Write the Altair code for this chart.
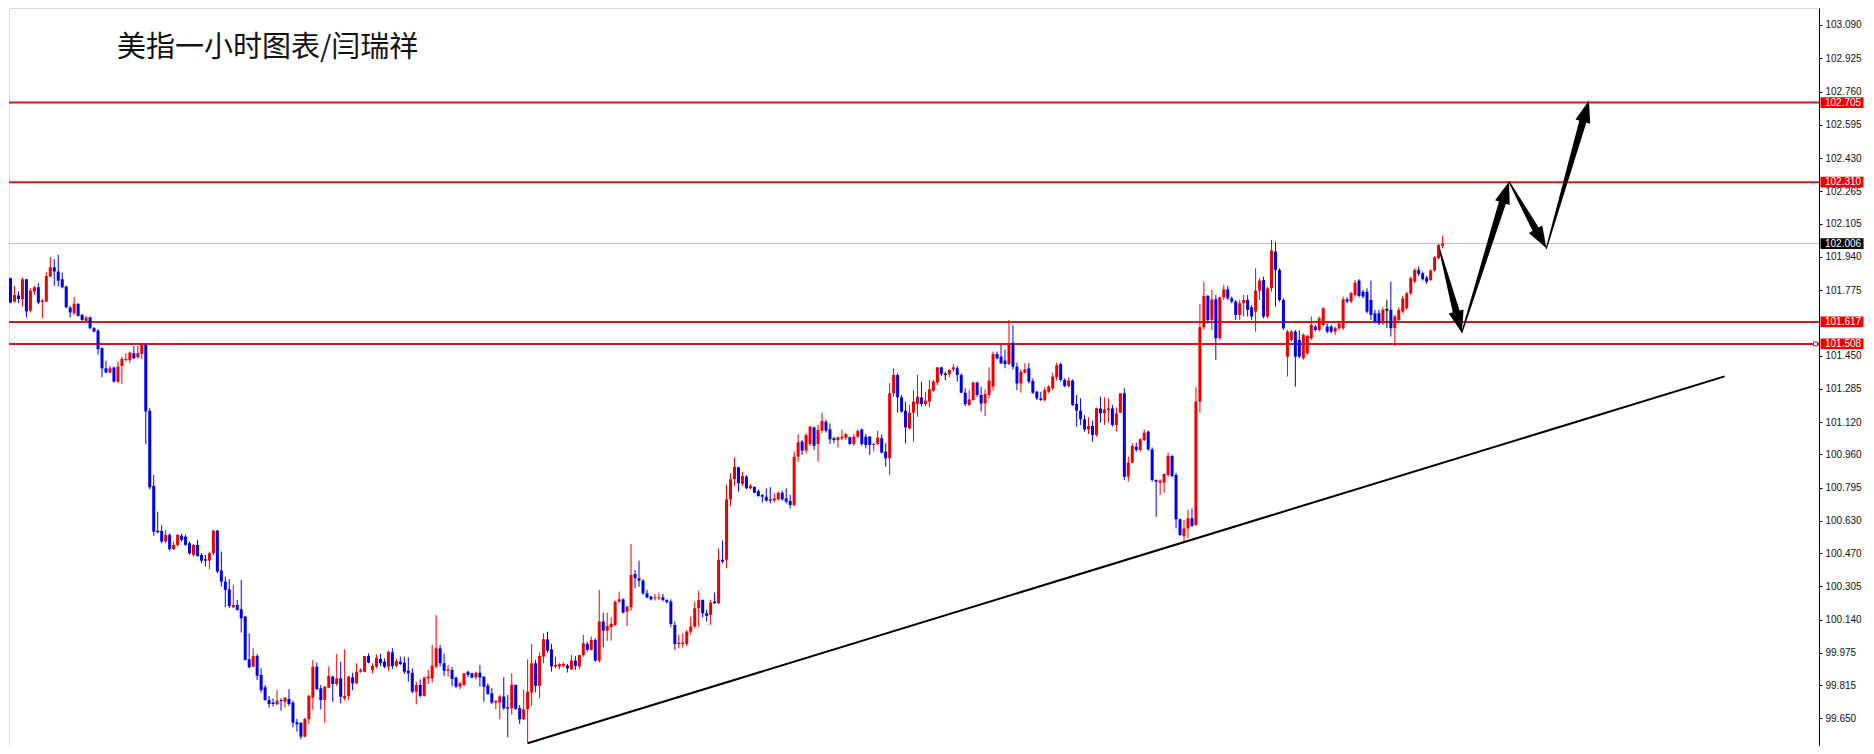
import math
import altair as alt
import pandas as pd

TITLE = "美指一小时图表/闫瑞祥"

OPEN = [
101.834,101.718,101.748,101.730,101.829,101.673,101.768,101.789,101.716,101.718,
101.842,101.888,101.867,101.829,101.793,101.688,101.660,101.707,101.652,101.622,
101.640,101.586,101.574,101.487,101.387,101.366,101.391,101.321,101.399,101.429,
101.429,101.462,101.442,101.459,101.505,101.176,100.804,100.581,100.581,100.528,
100.561,100.490,100.511,100.557,100.552,100.519,100.462,100.511,100.461,100.440,
100.433,100.470,100.582,100.384,100.329,100.291,100.202,100.213,100.192,100.156,
99.944,99.907,99.960,99.866,99.805,99.742,99.729,99.720,99.742,99.733,
99.747,99.729,99.631,99.629,99.560,99.646,99.753,99.907,99.800,99.742,
99.803,99.858,99.821,99.849,99.750,99.762,99.854,99.824,99.882,99.882,
99.960,99.891,99.907,99.945,99.932,99.907,99.978,99.912,99.932,99.927,
99.887,99.877,99.783,99.816,99.762,99.849,99.849,99.907,99.998,99.924,
99.887,99.891,99.853,99.808,99.816,99.882,99.874,99.854,99.877,99.858,
99.813,99.775,99.729,99.729,99.759,99.706,99.701,99.817,99.701,99.646,
99.696,99.779,99.924,99.812,99.957,100.043,99.993,99.908,99.908,99.911,
99.913,99.894,99.937,99.908,99.965,100.020,99.990,100.040,99.937,100.131,
100.086,100.103,100.114,100.230,100.241,100.180,100.202,100.367,100.346,100.334,
100.271,100.255,100.246,100.246,100.251,100.238,100.230,100.114,100.020,100.020,
100.020,100.081,100.106,100.197,100.238,100.172,100.164,100.230,100.222,100.437,
100.437,100.737,100.837,100.896,100.813,100.850,100.792,100.800,100.778,100.759,
100.750,100.737,100.731,100.737,100.770,100.742,100.729,100.709,100.949,101.023,
100.979,101.012,101.094,101.012,101.078,101.122,101.084,101.040,101.031,101.040,
101.043,101.045,101.012,101.048,101.084,101.048,101.048,101.007,101.012,101.040,
100.974,100.941,101.263,101.354,101.243,101.177,101.089,101.167,101.210,101.243,
101.210,101.222,101.276,101.316,101.392,101.357,101.357,101.382,101.387,101.354,
101.266,101.205,101.230,101.316,101.255,101.213,101.255,101.296,101.458,101.445,
101.425,101.408,101.514,101.395,101.312,101.365,101.387,101.324,101.271,101.238,
101.230,101.271,101.288,101.342,101.408,101.329,101.299,101.326,101.210,101.177,
101.134,101.084,101.101,101.056,101.188,101.164,101.180,101.188,101.106,101.167,
101.263,100.849,100.919,100.998,100.982,101.031,101.073,100.985,100.833,100.820,
100.820,100.858,100.952,100.858,100.638,100.555,100.593,100.643,100.610,101.222,
101.591,101.746,101.627,101.729,101.536,101.739,101.779,101.734,101.718,101.652,
101.710,101.726,101.690,101.668,101.772,101.825,101.644,101.784,101.966,101.875,
101.726,101.445,101.528,101.569,101.528,101.437,101.462,101.536,101.594,101.577,
101.602,101.594,101.594,101.569,101.586,101.586,101.729,101.718,101.751,101.822,
101.767,101.767,101.726,101.660,101.660,101.610,101.677,101.677,101.586,101.627,
101.668,101.685,101.759,101.817,101.875,101.858,101.837,101.825,101.872,101.933,101.995]

HIGH = [
101.837,101.796,101.768,101.839,101.829,101.784,101.796,101.809,101.730,101.864,
101.938,101.928,101.950,101.862,101.796,101.697,101.740,101.710,101.657,101.647,
101.644,101.591,101.581,101.492,101.425,101.399,101.396,101.421,101.445,101.462,
101.470,101.498,101.498,101.508,101.508,101.189,100.858,100.676,100.610,100.586,
100.569,100.528,100.564,100.566,100.561,100.528,100.516,100.536,100.470,100.461,
100.478,100.585,100.585,100.478,100.354,100.341,100.313,100.238,100.337,100.156,
100.073,99.998,99.970,99.899,99.816,99.762,99.750,99.791,99.750,99.755,
99.796,99.738,99.648,99.631,99.654,99.767,99.940,99.927,99.816,99.811,
99.907,99.861,99.970,99.932,99.993,99.861,99.877,99.924,99.899,99.960,
99.973,99.924,99.968,99.970,99.948,99.986,99.998,99.948,99.957,99.957,
99.953,99.899,99.833,99.844,99.858,99.891,100.015,100.163,100.015,99.973,
99.915,99.907,99.858,99.833,99.877,99.887,99.877,99.882,99.915,99.858,
99.824,99.800,99.742,99.767,99.855,99.767,99.874,99.817,99.717,99.792,
99.944,100.020,99.941,99.977,100.073,100.081,100.020,99.957,99.924,99.927,
99.921,99.965,99.960,99.965,100.065,100.031,100.056,100.048,100.288,100.175,
100.175,100.152,100.235,100.279,100.246,100.208,100.516,100.387,100.433,100.341,
100.288,100.258,100.268,100.274,100.268,100.241,100.241,100.131,100.065,100.073,
100.089,100.156,100.230,100.284,100.241,100.189,100.238,100.274,100.494,100.532,
100.809,100.866,100.945,100.899,100.874,100.858,100.813,100.800,100.787,100.764,
100.792,100.797,100.767,100.775,100.780,100.792,100.759,100.974,101.061,101.031,
101.065,101.101,101.098,101.106,101.167,101.131,101.114,101.048,101.048,101.081,
101.065,101.048,101.061,101.084,101.089,101.061,101.051,101.018,101.078,101.060,
101.015,101.313,101.387,101.362,101.255,101.222,101.205,101.279,101.354,101.321,
101.271,101.329,101.329,101.392,101.395,101.370,101.382,101.408,101.399,101.362,
101.288,101.279,101.321,101.321,101.296,101.283,101.392,101.470,101.470,101.503,
101.481,101.627,101.600,101.415,101.382,101.412,101.412,101.337,101.276,101.271,
101.293,101.304,101.365,101.415,101.415,101.337,101.342,101.332,101.255,101.238,
101.155,101.144,101.127,101.193,101.246,101.243,101.238,101.205,101.193,101.263,
101.288,100.949,101.015,101.018,101.040,101.084,101.078,100.995,100.836,100.836,
100.866,100.969,100.957,100.869,100.643,100.635,100.687,100.692,101.293,101.706,
101.817,101.751,101.776,101.751,101.743,101.801,101.796,101.743,101.726,101.726,
101.751,101.751,101.701,101.883,101.834,101.842,101.792,102.024,102.016,101.883,
101.734,101.577,101.577,101.577,101.577,101.561,101.553,101.644,101.602,101.644,
101.690,101.610,101.602,101.594,101.619,101.743,101.739,101.767,101.825,101.829,
101.776,101.784,101.822,101.677,101.677,101.690,101.726,101.817,101.652,101.690,
101.746,101.767,101.842,101.883,101.892,101.867,101.845,101.878,101.944,102.004,102.044]

LOW = [
101.710,101.713,101.710,101.693,101.640,101.664,101.751,101.705,101.635,101.716,
101.839,101.796,101.793,101.784,101.685,101.639,101.652,101.644,101.622,101.616,
101.581,101.566,101.454,101.343,101.363,101.363,101.316,101.313,101.310,101.421,
101.412,101.432,101.437,101.432,101.012,100.787,100.556,100.569,100.519,100.519,
100.483,100.486,100.503,100.528,100.506,100.462,100.453,100.453,100.420,100.404,
100.390,100.461,100.370,100.304,100.202,100.197,100.197,100.185,100.076,99.937,
99.899,99.904,99.841,99.778,99.738,99.704,99.709,99.717,99.689,99.704,
99.712,99.606,99.585,99.547,99.557,99.623,99.692,99.791,99.695,99.629,
99.800,99.733,99.811,99.725,99.738,99.742,99.791,99.821,99.877,99.879,
99.924,99.874,99.899,99.910,99.899,99.887,99.896,99.904,99.915,99.871,
99.833,99.775,99.720,99.755,99.758,99.821,99.828,99.899,99.907,99.861,
99.858,99.811,99.800,99.795,99.811,99.854,99.849,99.844,99.808,99.733,
99.767,99.722,99.696,99.646,99.693,99.557,99.668,99.693,99.623,99.643,
99.527,99.712,99.779,99.750,99.924,99.977,99.883,99.899,99.894,99.904,
99.878,99.891,99.891,99.894,99.957,99.982,99.987,99.932,99.927,100.003,
100.036,100.036,100.109,100.222,100.172,100.109,100.185,100.296,100.304,100.263,
100.246,100.235,100.235,100.238,100.230,100.222,100.103,99.990,99.998,100.002,
100.010,100.065,100.098,100.106,100.152,100.131,100.114,100.218,100.218,100.420,
100.395,100.704,100.803,100.775,100.803,100.787,100.787,100.767,100.750,100.721,
100.726,100.717,100.721,100.731,100.731,100.717,100.692,100.701,100.924,100.957,
100.965,101.002,100.982,100.924,101.065,101.068,101.012,101.015,100.995,101.031,
101.031,101.007,101.002,101.040,101.002,100.990,100.957,100.974,101.007,100.965,
100.899,100.858,101.246,101.167,101.167,101.015,101.084,101.023,101.147,101.197,
101.200,101.193,101.271,101.304,101.349,101.329,101.342,101.370,101.321,101.263,
101.200,101.200,101.226,101.246,101.172,101.150,101.238,101.276,101.431,101.408,
101.387,101.403,101.382,101.279,101.266,101.362,101.312,101.260,101.230,101.225,
101.222,101.263,101.279,101.326,101.321,101.293,101.293,101.200,101.098,101.106,
101.073,101.061,101.023,101.048,101.117,101.106,101.117,101.098,101.073,101.164,
100.833,100.825,100.916,100.973,100.973,101.026,100.978,100.825,100.651,100.759,
100.770,100.849,100.846,100.593,100.555,100.527,100.544,100.601,100.605,101.167,
101.577,101.610,101.577,101.429,101.528,101.726,101.726,101.710,101.627,101.627,
101.644,101.644,101.627,101.569,101.726,101.635,101.635,101.767,101.693,101.718,
101.577,101.346,101.520,101.296,101.437,101.429,101.453,101.528,101.569,101.569,
101.594,101.561,101.561,101.553,101.577,101.577,101.710,101.710,101.743,101.739,
101.734,101.660,101.627,101.610,101.602,101.602,101.586,101.544,101.498,101.619,
101.660,101.677,101.751,101.809,101.845,101.822,101.806,101.820,101.867,101.928,101.982]

CLOSE = [
101.713,101.751,101.731,101.829,101.669,101.773,101.789,101.713,101.723,101.845,
101.888,101.867,101.822,101.789,101.690,101.664,101.707,101.647,101.627,101.639,
101.586,101.569,101.482,101.387,101.366,101.387,101.321,101.396,101.434,101.434,
101.465,101.437,101.462,101.505,101.173,100.797,100.577,100.574,100.528,100.561,
100.490,100.511,100.561,100.536,100.511,100.470,100.511,100.456,100.433,100.433,
100.470,100.582,100.379,100.329,100.288,100.208,100.213,100.189,100.147,99.941,
99.904,99.960,99.862,99.791,99.742,99.722,99.722,99.738,99.737,99.753,
99.722,99.629,99.621,99.560,99.648,99.763,99.907,99.795,99.742,99.808,
99.861,99.821,99.849,99.758,99.762,99.858,99.824,99.882,99.891,99.960,
99.927,99.912,99.952,99.924,99.907,99.981,99.910,99.935,99.920,99.882,
99.874,99.783,99.816,99.762,99.853,99.858,99.912,99.998,99.924,99.887,
99.894,99.846,99.808,99.824,99.874,99.866,99.853,99.877,99.853,99.808,
99.772,99.729,99.737,99.759,99.701,99.699,99.817,99.697,99.646,99.696,
99.783,99.924,99.812,99.960,100.043,99.987,99.908,99.916,99.919,99.921,
99.899,99.937,99.911,99.965,100.023,99.990,100.040,99.937,100.131,100.086,
100.109,100.119,100.230,100.241,100.175,100.205,100.362,100.346,100.334,100.271,
100.251,100.241,100.251,100.251,100.238,100.227,100.119,100.020,100.027,100.027,
100.081,100.106,100.197,100.238,100.172,100.159,100.225,100.222,100.437,100.428,
100.737,100.837,100.899,100.817,100.853,100.792,100.805,100.770,100.754,100.750,
100.731,100.731,100.742,100.770,100.737,100.726,100.709,100.949,101.020,100.979,
101.056,101.098,101.003,101.081,101.126,101.078,101.035,101.031,101.045,101.048,
101.061,101.012,101.048,101.076,101.012,101.007,101.007,101.012,101.043,100.969,
100.941,101.263,101.354,101.243,101.172,101.094,101.167,101.222,101.246,101.210,
101.227,101.283,101.321,101.392,101.359,101.357,101.379,101.392,101.354,101.266,
101.210,101.233,101.316,101.255,101.213,101.260,101.326,101.458,101.436,101.412,
101.408,101.503,101.395,101.312,101.370,101.382,101.321,101.266,101.238,101.230,
101.279,101.296,101.346,101.403,101.329,101.299,101.326,101.205,101.177,101.134,
101.084,101.101,101.056,101.188,101.164,101.183,101.188,101.106,101.164,101.263,
100.849,100.919,101.002,100.982,101.035,101.068,100.985,100.833,100.825,100.830,
100.863,100.952,100.853,100.638,100.560,100.593,100.643,100.605,101.222,101.591,
101.746,101.627,101.729,101.536,101.739,101.779,101.734,101.718,101.652,101.710,
101.726,101.677,101.644,101.772,101.822,101.644,101.784,101.971,101.875,101.726,
101.586,101.569,101.569,101.445,101.445,101.553,101.548,101.602,101.577,101.635,
101.685,101.569,101.569,101.586,101.610,101.729,101.718,101.759,101.812,101.746,
101.743,101.668,101.652,101.619,101.610,101.677,101.677,101.586,101.644,101.677,
101.734,101.759,101.834,101.875,101.855,101.829,101.817,101.872,101.938,101.999,102.006]

LEVELS = [102.705, 102.310, 101.617, 101.508]
LAST_PRICE = 102.006
TICKS = [103.090, 102.925, 102.760, 102.595, 102.430, 102.265, 102.105, 101.940,
         101.775, 101.450, 101.285, 101.120, 100.960, 100.795, 100.630, 100.470,
         100.305, 100.140, 99.975, 99.815, 99.650]
TREND_K = [130, 430.9]
TREND_P = [99.527, 101.347]
PATH_K = [359.2, 364.85, 376.7, 386.1, 396.8]
PATH_P = [101.980, 101.564, 102.313, 101.982, 102.716]

assert len(OPEN) == len(HIGH) == len(LOW) == len(CLOSE)

# ---- layout / style ----
W, H = 1810, 738
X0 = 0.875
X1 = X0 + W / 4.0
YTOP = 103.1743
YBOT = YTOP - H / 201.6
PXK = W / (X1 - X0)
PXP = H / (YTOP - YBOT)

RED = "#ee0000"
BLUE = "#0000ee"
LINE_RED = "#d01820"
BOX_RED = "#f00000"
FONT = "Liberation Sans"
FS = 10

xs = alt.Scale(domain=[X0, X1], zero=False, nice=False)
ys = alt.Scale(domain=[YBOT, YTOP], zero=False, nice=False)
yaxis = alt.Axis(orient="right", values=TICKS, format=".3f", title=None, grid=False,
                 tickSize=3, labelPadding=3, labelFont=FONT, labelFontSize=FS,
                 labelColor="#111111", domainColor="black", tickColor="black",
                 labelOverlap=False, labelFlush=False)


def X(f):
    return alt.X(f"{f}:Q", scale=xs, axis=None)


def Y(f):
    return alt.Y(f"{f}:Q", scale=ys, axis=yaxis)


candles = pd.DataFrame({"k": range(len(OPEN)), "o": OPEN, "h": HIGH, "l": LOW, "c": CLOSE})
candles["dir"] = ["up" if c > o else ("down" if c < o else "doji")
                  for o, c in zip(candles["o"], candles["c"])]
cscale = alt.Scale(domain=["up", "down", "doji"], range=[RED, BLUE, "black"])

wicks = alt.Chart(candles).mark_rule(strokeWidth=1, clip=True).encode(
    x=X("k"), y=Y("l"), y2="h:Q",
    color=alt.Color("dir:N", scale=cscale, legend=None))

bodies = alt.Chart(candles).mark_bar(size=3, clip=True).encode(
    x=X("k"), y=Y("o"), y2="c:Q",
    color=alt.Color("dir:N", scale=cscale, legend=None),
    stroke=alt.Stroke("dir:N", scale=cscale, legend=None),
    strokeWidth=alt.condition("datum.dir == 'doji'", alt.value(1), alt.value(0)))

lv = pd.DataFrame({"p": LEVELS})
last = pd.DataFrame({"p": [LAST_PRICE]})

gray = alt.Chart(last).mark_rule(color="#c0c0c0", strokeWidth=1).encode(y=Y("p"))
reds = alt.Chart(lv).mark_rule(color=LINE_RED, strokeWidth=2).encode(y=Y("p"))

trend = alt.Chart(pd.DataFrame({"k": TREND_K, "p": TREND_P})).mark_line(
    color="black", strokeWidth=2, clip=True).encode(x=X("k"), y=Y("p"))

# tapered arrows
HEAD_LEN = 22.0
rows, heads = [], []
for i in range(len(PATH_K) - 1):
    k0, p0, k1, p1 = PATH_K[i], PATH_P[i], PATH_K[i + 1], PATH_P[i + 1]
    dx = (k1 - k0) * PXK
    dy = -(p1 - p0) * PXP
    L = math.hypot(dx, dy)
    ux, uy = dx / L, dy / L
    d = HEAD_LEN * 0.8
    bk = k1 - ux * d / PXK
    bp = p1 + uy * d / PXP
    rows.append({"leg": i, "seq": 0, "k": k0, "p": p0, "w": 1.2})
    rows.append({"leg": i, "seq": 1, "k": bk, "p": bp, "w": 7.5})
    ang = math.degrees(math.atan2(ux, -uy)) % 360
    heads.append({"k": k1, "p": p1, "ang": ang})

trail = alt.Chart(pd.DataFrame(rows)).mark_trail(color="black").encode(
    x=X("k"), y=Y("p"), size=alt.Size("w:Q", scale=None, legend=None),
    detail="leg:N", order="seq:Q")

HEAD_SHAPE = "M0,0L0.7,2L-0.7,2Z"
head = alt.Chart(pd.DataFrame(heads)).mark_point(
    shape=HEAD_SHAPE, filled=True, color="black", opacity=1, strokeWidth=0,
    size=HEAD_LEN ** 2).encode(x=X("k"), y=Y("p"), angle=alt.Angle("ang:Q", scale=None))

# title
title = alt.Chart(pd.DataFrame({"t": [TITLE]})).mark_text(
    font="Noto Sans CJK SC", fontSize=29, align="left", baseline="middle",
    color="#111111").encode(x=alt.value(108), y=alt.value(40), text="t:N")

# price boxes on the axis
BOX_SHAPE = "M-1,-0.25L1,-0.25L1,0.25L-1,0.25Z"
box_red = alt.Chart(lv).mark_point(shape=BOX_SHAPE, filled=True, color=BOX_RED,
                                   opacity=1, strokeWidth=0, size=43 ** 2).encode(
    x=alt.value(W + 23), y=Y("p"))
box_blk = alt.Chart(last).mark_point(shape=BOX_SHAPE, filled=True, color="black",
                                     opacity=1, strokeWidth=0, size=43 ** 2).encode(
    x=alt.value(W + 23), y=Y("p"))
box_txt = alt.Chart(pd.concat([lv, last])).mark_text(
    font=FONT, fontSize=FS, align="left", baseline="middle", color="white").encode(
    x=alt.value(W + 6), y=Y("p"), text=alt.Text("p:Q", format=".3f"))
marker = alt.Chart(pd.DataFrame({"p": [LEVELS[-1]]})).mark_square(
    size=16, fill="white", stroke=LINE_RED, strokeWidth=1, opacity=1).encode(
    x=alt.value(W - 3.5), y=Y("p"))

chart = alt.layer(gray, reds, trend, wicks, bodies, trail, head, title,
                  box_red, box_blk, box_txt, marker).properties(
    width=W, height=H, padding=0
).configure_view(strokeWidth=0).configure(background="white")

chart.save("out.html", embed_options={"renderer": "svg", "actions": False})
